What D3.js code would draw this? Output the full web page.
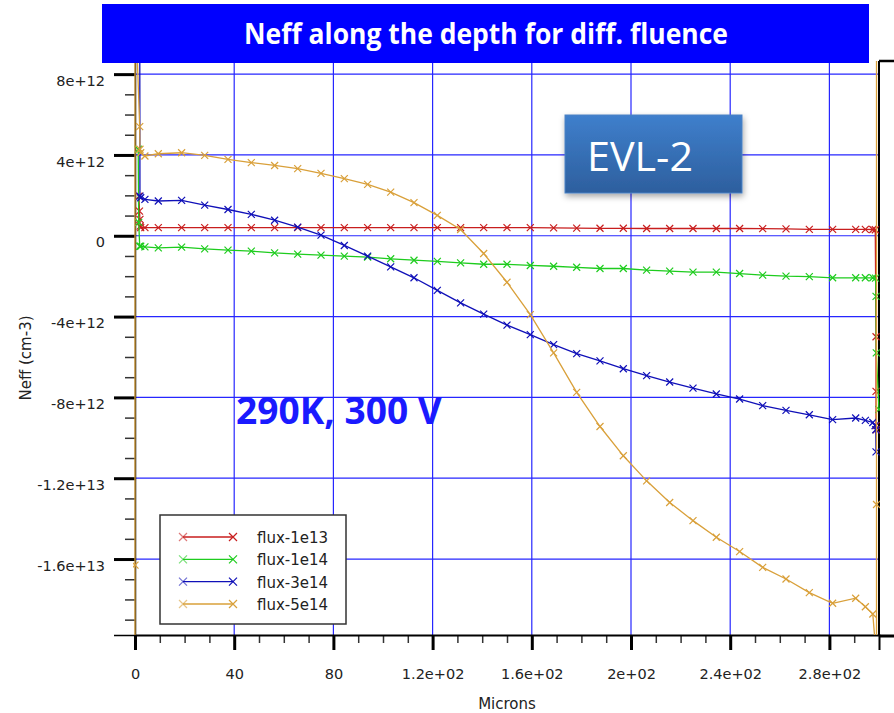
<!DOCTYPE html>
<html>
<head>
<meta charset="utf-8">
<script src="https://cdn.jsdelivr.net/npm/d3@7"></script>
<style>
  body { margin: 0; background: #fff; }
  svg { display: block; }
</style>
</head>
<body>
<svg id="chart" width="894" height="713"></svg>
<script>
// depth positions (microns) of the regular mesh points
const depth = [2.3, 4, 9.4, 18.8, 28.1, 37.5, 46.9, 56.3, 65.6, 75, 84.4, 93.8, 103.1, 112.5,
  121.9, 131.3, 140.6, 150, 159.4, 168.8, 178.1, 187.5, 196.9, 206.3, 215.6, 225, 234.4,
  243.8, 253.1, 262.5, 271.9, 281.3, 290.6, 294.5, 297.5];

// Neff values in units of 1e12 cm-3
const flux1e13 = [0.40, 0.40, 0.40, 0.40, 0.40, 0.40, 0.40, 0.40, 0.40, 0.40, 0.40, 0.40, 0.40, 0.40,
  0.40, 0.40, 0.40, 0.40, 0.40, 0.39, 0.38, 0.37, 0.37, 0.36, 0.36, 0.36, 0.36,
  0.36, 0.35, 0.34, 0.32, 0.32, 0.32, 0.32, 0.31];
const flux1e14 = [-0.52, -0.55, -0.60, -0.56, -0.65, -0.71, -0.76, -0.85, -0.91, -0.96, -1.01, -1.06, -1.14, -1.21,
  -1.27, -1.34, -1.41, -1.41, -1.47, -1.51, -1.56, -1.62, -1.62, -1.70, -1.75, -1.80, -1.80,
  -1.87, -1.95, -2.00, -2.02, -2.08, -2.08, -2.08, -2.08];
const flux3e14 = [1.88, 1.80, 1.72, 1.75, 1.52, 1.30, 1.06, 0.77, 0.43, 0.03, -0.48, -1.01, -1.54, -2.08,
  -2.70, -3.32, -3.88, -4.42, -4.89, -5.39, -5.83, -6.19, -6.58, -6.92, -7.24, -7.54, -7.83,
  -8.08, -8.41, -8.64, -8.86, -9.10, -9.02, -9.14, -9.24];
const flux5e14 = [4.11, 3.95, 4.06, 4.11, 3.98, 3.78, 3.62, 3.48, 3.32, 3.09, 2.83, 2.54, 2.16, 1.64,
  1.01, 0.31, -0.88, -2.30, -3.90, -5.80, -7.75, -9.44, -10.89, -12.13, -13.20, -14.10, -14.92,
  -15.63, -16.41, -16.99, -17.66, -18.19, -17.94, -18.36, -18.72];

// points at the front surface (x ~ 0)
const start1e13X = [1.6, 1.8, 2.0, 2.1];
const start1e13Y = [1.96, 1.22, 0.81, 0.48];
const start1e14X = [1.3, 1.5, 1.9];
const start1e14Y = [4.28, 0.66, -0.52];
const start3e14X = [1.9, 2.0];
const start3e14Y = [12, 1.96];
const start5e14X = [0, 0, 0, 1.9, 2.0];
const start5e14Y = [-25, -16.3, 12, 5.4, 4.28];

// points at the back surface (x ~ 300)
const end1e13X = [298.5, 298.8, 298.8, 298.8, 298.9];
const end1e13Y = [0.30, -5.0, -7.7, -9.4, -9.6];
const end1e14X = [298.6, 298.8, 298.9, 300];
const end1e14Y = [-2.1, -3.0, -5.8, -8.6];
const end3e14X = [298.4, 298.7, 298.8];
const end3e14Y = [-9.4, -9.6, -10.7];
const end5e14X = [299, 299, 299];
const end5e14Y = [-21, -13.3, 12];

const seriesNames = ["flux-1e13", "flux-1e14", "flux-3e14", "flux-5e14"];
const seriesColors = ["#c81e1e", "#1ecc1e", "#1010b8", "#d9a03a"];

const xTicks = [0, 40, 80, 120, 160, 200, 240, 280];
const xTickLabels = ["0", "40", "80", "1.2e+02", "1.6e+02", "2e+02", "2.4e+02", "2.8e+02"];
const yTicks = [8, 4, 0, -4, -8, -12, -16];
const yTickLabels = ["8e+12", "4e+12", "0", "-4e+12", "-8e+12", "-1.2e+13", "-1.6e+13"];

const svg = d3.select("#chart");
const plot = { left: 135, right: 879, top: 61, bottom: 635 };

const x = d3.scaleLinear().domain([0, 300]).range([plot.left, plot.right]);
const y = d3.scaleLinear().domain([-19.76, 8.65]).range([plot.bottom, plot.top]);

const defs = svg.append("defs");
defs.append("clipPath").attr("id", "clip")
  .append("rect")
  .attr("x", plot.left - 2).attr("y", plot.top)
  .attr("width", plot.right - plot.left + 3).attr("height", plot.bottom - plot.top);

// grid
const grid = svg.append("g");
grid.selectAll(".hg").data(yTicks).enter().append("line")
  .attr("x1", plot.left).attr("x2", plot.right)
  .attr("y1", d => y(d)).attr("y2", d => y(d))
  .attr("stroke", "#2626ff").attr("stroke-width", 1.2);
grid.selectAll(".vg").data(xTicks.slice(1)).enter().append("line")
  .attr("y1", plot.top).attr("y2", plot.bottom)
  .attr("x1", d => x(d)).attr("x2", d => x(d))
  .attr("stroke", "#2626ff").attr("stroke-width", 1.2);

// minor ticks
const yMinor = d3.range(-19, 9, 1).filter(v => !yTicks.includes(v));
const xMinor = d3.range(10, 300, 10).filter(v => !xTicks.includes(v));

svg.append("g")
  .attr("transform", `translate(${plot.left},0)`)
  .call(d3.axisLeft(y).tickValues(yMinor).tickSize(10).tickFormat(""))
  .call(g => g.select(".domain").remove())
  .call(g => g.selectAll("line").attr("stroke", "#333").attr("stroke-width", 1.5));

svg.append("g")
  .attr("transform", `translate(0,${plot.bottom})`)
  .call(d3.axisBottom(x).tickValues(xMinor).tickSize(8).tickFormat(""))
  .call(g => g.select(".domain").remove())
  .call(g => g.selectAll("line").attr("stroke", "#333").attr("stroke-width", 1.5));

// major axes
const yAxis = svg.append("g")
  .attr("transform", `translate(${plot.left},0)`)
  .call(d3.axisLeft(y).tickValues(yTicks).tickSize(21).tickPadding(9)
    .tickFormat((d, i) => yTickLabels[i]));
yAxis.select(".domain").attr("stroke", "#000").attr("stroke-width", 1.5);
yAxis.selectAll("line").attr("stroke", "#000").attr("stroke-width", 3);
yAxis.selectAll("text")
  .attr("dy", "0.77em")
  .attr("fill", "#222")
  .style("font-family", "DejaVu Sans")
  .style("font-size", "14.5px");

const xAxis = svg.append("g")
  .attr("transform", `translate(0,${plot.bottom})`)
  .call(d3.axisBottom(x).tickValues(xTicks).tickSize(15)
    .tickFormat((d, i) => xTickLabels[i]));
xAxis.select(".domain").attr("stroke", "#000").attr("stroke-width", 2);
xAxis.selectAll("line").attr("stroke", "#000").attr("stroke-width", 3);
xAxis.selectAll("text")
  .attr("y", 44).attr("dy", 0)
  .attr("fill", "#222")
  .style("font-family", "DejaVu Sans")
  .style("font-size", "14.5px");

// right frame
svg.append("line").attr("x1", plot.right).attr("x2", plot.right)
  .attr("y1", plot.top).attr("y2", plot.bottom + 1)
  .attr("stroke", "#000").attr("stroke-width", 2);
svg.append("line").attr("x1", plot.right).attr("x2", 894)
  .attr("y1", plot.top).attr("y2", plot.top)
  .attr("stroke", "#000").attr("stroke-width", 2.5);
svg.append("line").attr("x1", plot.right).attr("x2", 894)
  .attr("y1", plot.bottom + 1).attr("y2", plot.bottom + 1)
  .attr("stroke", "#000").attr("stroke-width", 3);

// axis titles
svg.append("text")
  .attr("x", 507).attr("y", 709)
  .attr("text-anchor", "middle")
  .attr("fill", "#222")
  .style("font-family", "DejaVu Sans").style("font-size", "15px")
  .text("Microns");
svg.append("text")
  .attr("transform", "translate(31,358) rotate(-90)")
  .attr("text-anchor", "middle")
  .attr("fill", "#222")
  .style("font-family", "DejaVu Sans").style("font-size", "15px")
  .text("Neff (cm-3)");

// build each series
function buildSeries(sx, sy, vals, ex, ey) {
  const pts = [];
  sx.forEach((v, i) => pts.push([v, sy[i]]));
  depth.forEach((v, i) => pts.push([v, vals[i]]));
  ex.forEach((v, i) => pts.push([v, ey[i]]));
  return pts;
}
const allSeries = [
  buildSeries(start1e13X, start1e13Y, flux1e13, end1e13X, end1e13Y),
  buildSeries(start1e14X, start1e14Y, flux1e14, end1e14X, end1e14Y),
  buildSeries(start3e14X, start3e14Y, flux3e14, end3e14X, end3e14Y),
  buildSeries(start5e14X, start5e14Y, flux5e14, end5e14X, end5e14Y)
];

const line = d3.line().x(d => x(d[0])).y(d => y(d[1]));
const data = svg.append("g").attr("clip-path", "url(#clip)");

function crossPath(cx, cy, r) {
  return `M${cx - r},${cy - r}L${cx + r},${cy + r}M${cx - r},${cy + r}L${cx + r},${cy - r}`;
}

allSeries.forEach((pts, i) => {
  const g = data.append("g");
  g.append("path")
    .attr("d", line(pts))
    .attr("fill", "none")
    .attr("stroke", seriesColors[i])
    .attr("stroke-width", 1.3);
  g.selectAll(".m").data(pts).enter().append("path")
    .attr("d", d => crossPath(x(d[0]), y(d[1]), 3.5))
    .attr("stroke", seriesColors[i])
    .attr("stroke-width", 1.2)
    .attr("fill", "none");
});

// legend
const legend = svg.append("g");
legend.append("rect")
  .attr("x", 160).attr("y", 515).attr("width", 186).attr("height", 109)
  .attr("fill", "#fff").attr("stroke", "#333").attr("stroke-width", 1.5);
const legendY = d3.scalePoint().domain(seriesNames).range([537, 604]);
seriesNames.forEach((name, i) => {
  const ly = legendY(name);
  legend.append("line")
    .attr("x1", 183).attr("x2", 233).attr("y1", ly).attr("y2", ly)
    .attr("stroke", seriesColors[i]).attr("stroke-width", 1.3);
  legend.append("path").attr("d", crossPath(183, ly, 4))
    .attr("stroke", seriesColors[i]).attr("stroke-opacity", 0.6).attr("stroke-width", 1.2);
  legend.append("path").attr("d", crossPath(233, ly, 4))
    .attr("stroke", seriesColors[i]).attr("stroke-width", 1.2);
  legend.append("text")
    .attr("x", 257).attr("y", ly + 6)
    .attr("fill", "#222")
    .style("font-family", "DejaVu Sans").style("font-size", "15px")
    .text(name);
});

// annotation text
svg.append("text")
  .attr("x", 236).attr("y", 424)
  .attr("fill", "#1a1aff")
  .attr("textLength", 206).attr("lengthAdjust", "spacingAndGlyphs")
  .style("font-family", "Open Sans").style("font-weight", "bold").style("font-size", "38px")
  .text("290K, 300 V");

// EVL-2 box
const grad = defs.append("linearGradient").attr("id", "evl").attr("x1", 0).attr("x2", 0).attr("y1", 0).attr("y2", 1);
grad.append("stop").attr("offset", "0%").attr("stop-color", "#3f7fcc");
grad.append("stop").attr("offset", "100%").attr("stop-color", "#2d5f9e");
const shadow = defs.append("filter").attr("id", "shadow")
  .attr("x", "-10%").attr("y", "-10%").attr("width", "130%").attr("height", "140%");
shadow.append("feDropShadow").attr("dx", 1).attr("dy", 3).attr("stdDeviation", 3)
  .attr("flood-color", "#000").attr("flood-opacity", 0.35);
svg.append("rect")
  .attr("x", 565).attr("y", 115).attr("width", 177).attr("height", 78)
  .attr("fill", "url(#evl)").attr("stroke", "#4a82c4").attr("stroke-width", 1)
  .attr("filter", "url(#shadow)");
svg.append("text")
  .attr("x", 587).attr("y", 171)
  .attr("fill", "#fff")
  .attr("textLength", 106).attr("lengthAdjust", "spacingAndGlyphs")
  .style("font-family", "Open Sans").style("font-size", "40px")
  .text("EVL-2");

// title banner
svg.append("rect")
  .attr("x", 102).attr("y", 4).attr("width", 767).attr("height", 59)
  .attr("fill", "#0000ff");
svg.append("text")
  .attr("x", 244).attr("y", 44)
  .attr("fill", "#fff")
  .attr("textLength", 484).attr("lengthAdjust", "spacingAndGlyphs")
  .style("font-family", "Open Sans").style("font-weight", "bold").style("font-size", "28px")
  .text("Neff along the depth for diff. fluence");
</script>
</body>
</html>
